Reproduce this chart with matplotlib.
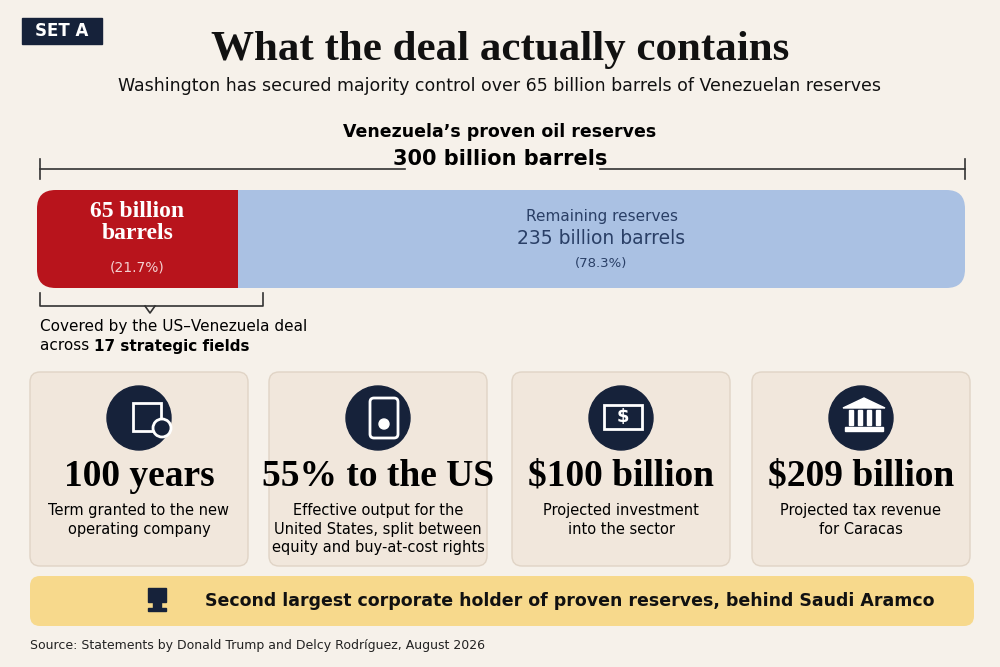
import matplotlib
matplotlib.use("Agg")
import matplotlib.pyplot as plt
from matplotlib.patches import FancyBboxPatch, Circle, Rectangle

title = "What the deal actually contains"
subtitle = "Washington has secured majority control over 65 billion barrels of Venezuelan reserves"
total_label = "300 billion barrels"
segments = [65, 235]
seg_pct = [21.7, 78.3]
card_values = ["100 years", "55% to the US", "$100 billion", "$209 billion"]
card_texts = ["Term granted to the new\noperating company",
              "Effective output for the\nUnited States, split between\nequity and buy-at-cost rights",
              "Projected investment\ninto the sector",
              "Projected tax revenue\nfor Caracas"]
banner = "Second largest corporate holder of proven reserves, behind Saudi Aramco"
source = "Source: Statements by Donald Trump and Delcy Rodríguez, August 2026"

BG = "#f6f1ea"; RED = "#b8141c"; BLUE = "#aac1e3"; NAVY = "#16223a"
fig = plt.figure(figsize=(10, 6.67), dpi=100, facecolor=BG)
ax = fig.add_axes([0, 0, 1, 1]); ax.set_xlim(0, 1000); ax.set_ylim(667, 0); ax.axis("off")
serif = "Liberation Serif"

ax.add_patch(Rectangle((22, 18), 80, 26, color=NAVY))
ax.text(62, 31, "SET A", color="white", fontsize=12, fontweight="bold", ha="center", va="center")
ax.text(500, 50, title, fontsize=31, fontweight="bold", family=serif, ha="center", va="center", color="#111")
ax.text(500, 86, subtitle, fontsize=12.5, ha="center", va="center", color="#111")
ax.text(500, 132, "Venezuela’s proven oil reserves", fontsize=12.5, fontweight="bold", ha="center", va="center")
ax.text(500, 159, total_label, fontsize=15, fontweight="bold", ha="center", va="center")
ax.plot([40, 405], [169, 169], color="#333", lw=1.2); ax.plot([600, 965], [169, 169], color="#333", lw=1.2)
for x in (40, 965): ax.plot([x, x], [159, 179], color="#333", lw=1.2)

# stacked bar
bax = fig.add_axes([0.037, 1 - 288 / 667, 0.928, 98 / 667]); bax.axis("off")
bax.set_xlim(0, sum(segments)); bax.set_ylim(0, 1)
clip = FancyBboxPatch((0, 0), 1, 1, boxstyle="round,pad=0,rounding_size=0.02",
                      transform=bax.transAxes, fc="none", ec="none", mutation_aspect=9.5)
bax.add_patch(clip)
b1 = bax.barh(0.5, segments[0], height=1, color=RED, left=0)
b2 = bax.barh(0.5, segments[1], height=1, color=BLUE, left=segments[0])
for b in list(b1) + list(b2):
    b.set_clip_path(clip)
bax.text(segments[0] / 2, 0.67, "65 billion\nbarrels", fontsize=17, fontweight="bold", family=serif,
         color="white", ha="center", va="center", linespacing=1.05)
bax.text(segments[0] / 2, 0.21, f"({seg_pct[0]}%)", fontsize=10, color="#f3d0d0", ha="center", va="center")
mid = segments[0] + segments[1] / 2
bax.text(mid, 0.73, "Remaining reserves", fontsize=11, color="#2a3f66", ha="center", va="center")
bax.text(mid, 0.5, f"{segments[1]} billion barrels", fontsize=13.5, color="#2a3f66", ha="center", va="center")
bax.text(mid, 0.25, f"({seg_pct[1]}%)", fontsize=9.5, color="#2a3f66", ha="center", va="center")

ax.plot([40, 40, 263, 263], [293, 306, 306, 293], color="#333", lw=1.2)
ax.plot([145, 150, 155], [306, 313, 306], color="#333", lw=1.2)
ax.text(40, 327, "Covered by the US–Venezuela deal", fontsize=11, va="center")
t = ax.text(40, 346, "across ", fontsize=11, va="center")
ax.annotate("17 strategic fields", xycoords=t, xy=(1, 0.5), va="center", fontsize=11, fontweight="bold")

xs = [30, 269, 512, 752]
for i, x0 in enumerate(xs):
    ax.add_patch(FancyBboxPatch((x0, 372), 218, 194, boxstyle="round,pad=0,rounding_size=10",
                                fc="#f1e7dc", ec="#e0d4c6", lw=1))
    cx = x0 + 109
    ax.add_patch(Circle((cx, 418), 32, color=NAVY))
    ax.text(cx, 476, card_values[i], fontsize=27, fontweight="bold", family=serif, ha="center", va="center")
    ax.text(cx, 503, card_texts[i], fontsize=10.5, ha="center", va="top", linespacing=1.3)
# simple icons
ax.add_patch(Rectangle((133, 403), 28, 28, fill=False, ec="white", lw=2))
ax.add_patch(Circle((162, 428), 9, fc=NAVY, ec="white", lw=2))
ax.add_patch(FancyBboxPatch((370, 398), 28, 40, boxstyle="round,pad=0,rounding_size=4", fill=False, ec="white", lw=2))
ax.add_patch(Circle((384, 424), 5, color="white"))
ax.add_patch(Rectangle((604, 405), 38, 24, fill=False, ec="white", lw=2))
ax.text(623, 417, "$", color="white", fontsize=13, fontweight="bold", ha="center", va="center")
ax.add_patch(Rectangle((845, 427), 38, 4, color="white"))
for k in range(4): ax.add_patch(Rectangle((849 + k * 9, 410), 4, 15, color="white"))
ax.fill([843, 864, 885], [408, 398, 408], color="white")

ax.add_patch(FancyBboxPatch((30, 576), 944, 50, boxstyle="round,pad=0,rounding_size=10", fc="#f7d98c", ec="none"))
ax.add_patch(Rectangle((148, 588), 18, 14, color=NAVY)); ax.add_patch(Rectangle((153, 602), 8, 8, color=NAVY))
ax.add_patch(Rectangle((148, 608), 18, 3, color=NAVY))
ax.text(205, 601, banner, fontsize=12.5, fontweight="bold", ha="left", va="center", color="#111")
ax.text(30, 646, source, fontsize=9, va="center", color="#222")
fig.savefig("out.png", dpi=100, facecolor=BG)
